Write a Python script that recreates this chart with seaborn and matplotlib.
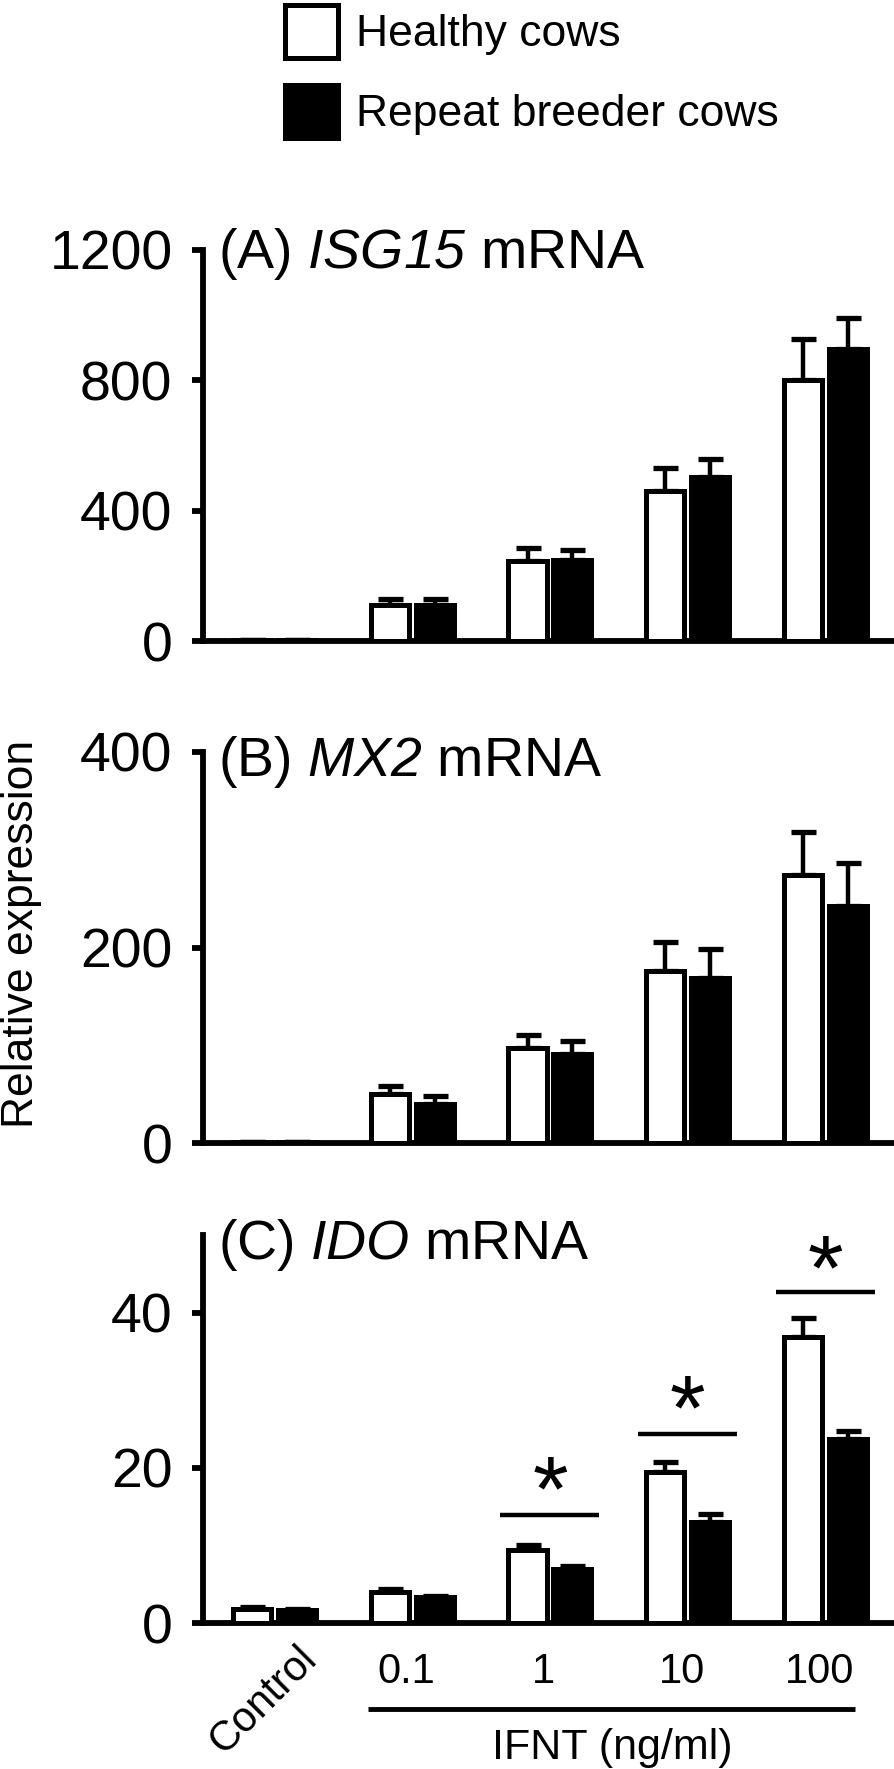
import numpy as np
import pandas as pd
import matplotlib
matplotlib.use("Agg")
import matplotlib.pyplot as plt
import matplotlib.transforms as mtransforms
import seaborn as sns

# ---------------- data ----------------
doses = ["Control", "0.1", "1", "10", "100"]
dose_ticklabels = ["", "0.1", "1", "10", "100"]
groups = ["Healthy cows", "Repeat breeder cows"]
group_colors = ["white", "black"]

isg15_healthy = [2, 112, 246, 460, 800]
isg15_healthy_err = [1, 18, 38, 72, 128]
isg15_repeat = [2, 110, 250, 502, 896]
isg15_repeat_err = [1, 18, 28, 58, 96]

mx2_healthy = [1, 50, 97, 176, 274]
mx2_healthy_err = [0.5, 8, 13, 30, 44]
mx2_repeat = [1, 40, 91, 169, 242]
mx2_repeat_err = [0.5, 8, 13, 29, 44]

ido_healthy = [1.8, 4.0, 9.4, 19.5, 36.8]
ido_healthy_err = [0.2, 0.4, 0.7, 1.3, 2.5]
ido_repeat = [1.7, 3.3, 7.0, 13.0, 23.7]
ido_repeat_err = [0.1, 0.2, 0.4, 1.0, 1.0]

panel_titles = [r"(A) $\mathsf{ISG15}$ mRNA", r"(B) $\mathsf{MX2}$ mRNA", r"(C) $\mathsf{IDO}$ mRNA"]
panel_ylims = [1200, 400, 50]
panel_yticks = [[0, 400, 800, 1200], [0, 200, 400], [0, 20, 40]]

sig_x = [2, 3, 4]
sig_line_y = [13.9, 24.4, 42.7]
sig_star_y = [19.9, 30.4, 48.5]
sig_halfwidth = 0.36

ifnt_span = (0.68, 4.22)

# ---------------- style ----------------
sns.set_style("ticks")
plt.rcParams["font.family"] = ["Liberation Sans", "DejaVu Sans"]
plt.rcParams["mathtext.fontset"] = "custom"
plt.rcParams["mathtext.rm"] = "Liberation Sans"
plt.rcParams["mathtext.it"] = "Liberation Sans:italic"
plt.rcParams["mathtext.sf"] = "Liberation Sans:italic"
plt.rcParams["mathtext.bf"] = "Liberation Sans:bold"
for key in ["text.color", "axes.labelcolor", "xtick.color", "ytick.color", "axes.edgecolor"]:
    plt.rcParams[key] = "black"

W, H = 894, 1769
fig = plt.figure(figsize=(W / 100, H / 100), dpi=100)

left = 203 / W
width = 1 - left
axes_px = [(250, 641), (752, 1143), (1235, 1623)]  # (top, zero) in pixels

panels = [
    (isg15_healthy, isg15_healthy_err, isg15_repeat, isg15_repeat_err),
    (mx2_healthy, mx2_healthy_err, mx2_repeat, mx2_repeat_err),
    (ido_healthy, ido_healthy_err, ido_repeat, ido_repeat_err),
]

axes = []
for i, ((hv, he, rv, re), (top, zero)) in enumerate(zip(panels, axes_px)):
    ax = fig.add_axes([left, 1 - zero / H, width, (zero - top) / H])
    axes.append(ax)
    df = pd.DataFrame({
        "dose": doses * 2,
        "group": [groups[0]] * len(doses) + [groups[1]] * len(doses),
        "value": hv + rv,
    })
    sns.barplot(data=df, x="dose", y="value", hue="group", order=doses,
                hue_order=groups, palette=group_colors, saturation=1,
                edgecolor="black", linewidth=3.6, width=0.65, gap=0.15,
                errorbar=None, ax=ax, legend=(i == 0), zorder=3)
    for cont, vals, errs in zip(ax.containers, [hv, rv], [he, re]):
        xs = [p.get_x() + p.get_width() / 2 for p in cont]
        ax.errorbar(xs, vals, yerr=[np.zeros(len(errs)), errs], fmt="none",
                    ecolor="black", elinewidth=3.2, capsize=9, capthick=3.8,
                    zorder=2)
    ax.set_xlim(-0.52, 4.5)
    ax.set_ylim(0, panel_ylims[i])
    ax.set_yticks(panel_yticks[i])
    ax.set_xlabel("")
    ax.set_ylabel("")
    sns.despine(ax=ax)
    for s in ["left", "bottom"]:
        ax.spines[s].set_linewidth(4.2)
    ax.tick_params(axis="y", length=8, width=4.2, labelsize=40, pad=14)
    ax.tick_params(axis="x", length=0)
    ax.set_xticks(range(len(doses)))
    if i < 2:
        ax.set_xticklabels([])
    else:
        ax.set_xticklabels(dose_ticklabels, fontsize=30)
        ax.tick_params(axis="x", pad=21)
        shift = mtransforms.ScaledTranslation(-6 / 100, 0, fig.dpi_scale_trans)
        for lbl in ax.get_xticklabels():
            lbl.set_transform(lbl.get_transform() + shift)
    ax.text(0.022, 0.99 if i == 0 else 0.975, panel_titles[i], transform=ax.transAxes,
            ha="left", va="center", fontsize=40)

# legend
handles, labels = axes[0].get_legend_handles_labels()
if axes[0].legend_ is not None:
    axes[0].legend_.remove()
fig.legend(handles, labels, loc="upper left", bbox_to_anchor=(285 / W, 1 - 5 / H),
           frameon=False, fontsize=32, handlelength=1.2, handleheight=1.45,
           handletextpad=0.4, labelspacing=0.62, borderpad=0, borderaxespad=0)

# significance marks on panel C
axC = axes[2]
for xi, ly, sy in zip(sig_x, sig_line_y, sig_star_y):
    axC.plot([xi - sig_halfwidth, xi + sig_halfwidth], [ly, ly], color="black",
             lw=3.2, solid_capstyle="butt", clip_on=False)
    axC.annotate("*", xy=(xi, sy), xytext=(0, -0.57 * 66), textcoords="offset points",
                 ha="center", va="baseline", fontsize=66, annotation_clip=False)

# bottom labels
trans = mtransforms.blended_transform_factory(axC.transData, axC.transAxes)
axC.plot(list(ifnt_span), [-0.222, -0.222], transform=trans, clip_on=False,
         color="black", lw=3.5, solid_capstyle="butt")
axC.text(2.45, -0.322, "IFNT (ng/ml)", transform=trans, ha="center", va="center",
         fontsize=31)
axC.text(0.32, -0.095, "Control", transform=trans, ha="right", va="baseline",
         rotation=45, rotation_mode="anchor", fontsize=30)

fig.text(22 / W, 1 - 934 / H, "Relative expression", rotation=90, ha="center",
         va="center", fontsize=32)

fig.savefig("out.png", dpi=100)
